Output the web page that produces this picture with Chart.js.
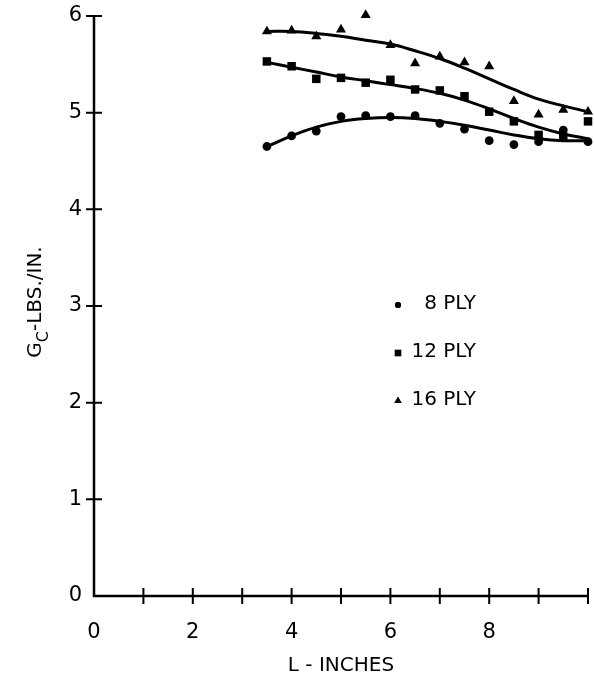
<!DOCTYPE html>
<html><head><meta charset="utf-8">
<script src="https://cdn.jsdelivr.net/npm/chart.js@4/dist/chart.umd.min.js"></script>
<style>html,body{margin:0;padding:0;background:#fff}#wrap{width:594px;height:684px}</style>
</head><body><div id="wrap"><canvas id="c" width="594" height="684"></canvas></div>
<script>
const lengths = [3.5, 4, 4.5, 5, 5.5, 6, 6.5, 7, 7.5, 8, 8.5, 9, 9.5, 10];
const ply8  = [4.65, 4.76, 4.81, 4.96, 4.97, 4.96, 4.97, 4.89, 4.83, 4.71, 4.67, 4.70, 4.82, 4.70];
const ply12 = [5.53, 5.48, 5.35, 5.36, 5.31, 5.34, 5.24, 5.23, 5.17, 5.01, 4.91, 4.77, 4.75, 4.91];
const ply16 = [5.84, 5.85, 5.79, 5.86, 6.01, 5.70, 5.51, 5.58, 5.52, 5.48, 5.12, 4.98, 5.03, 5.01];
const fit8  = [4.65, 4.76, 4.85, 4.91, 4.94, 4.95, 4.94, 4.91, 4.87, 4.82, 4.77, 4.73, 4.71, 4.71];
const fit12 = [5.52, 5.47, 5.42, 5.37, 5.33, 5.29, 5.25, 5.20, 5.13, 5.04, 4.94, 4.85, 4.78, 4.73];
const fit16 = [5.84, 5.84, 5.82, 5.79, 5.75, 5.71, 5.64, 5.56, 5.46, 5.35, 5.24, 5.14, 5.07, 5.01];
const seriesNames = ['8 PLY', '12 PLY', '16 PLY'];
const seriesMarkers = ['circle', 'rect', 'triangle'];
const xTicks = [0, 1, 2, 3, 4, 5, 6, 7, 8, 9, 10];
const xLabelled = [0, 2, 4, 6, 8];
const yTicks = [0, 1, 2, 3, 4, 5, 6];

const FONT = '"DejaVu Sans", sans-serif';
const pts = (ys) => lengths.map((x, i) => ({x, y: ys[i]}));
const markerRadius = {circle: 4.4, rect: 6, triangle: 5.8};

const scatter = (name, ys, marker) => ({
  type: 'scatter', label: name, data: pts(ys), showLine: false, clip: false,
  pointStyle: marker, pointRadius: markerRadius[marker],
  backgroundColor: '#000', borderColor: '#000', borderWidth: 0
});
const curve = (ys) => ({
  type: 'line', data: pts(ys), pointRadius: 0, borderColor: '#000', clip: false,
  borderWidth: 3, tension: 0.4, fill: false
});

const decor = {
  id: 'decor',
  afterDraw(chart) {
    const ctx = chart.ctx, xs = chart.scales.x, ys = chart.scales.y;
    const x0 = xs.getPixelForValue(0), y0 = ys.getPixelForValue(0);
    ctx.save();
    ctx.strokeStyle = '#000'; ctx.lineWidth = 2.5; ctx.lineCap = 'butt';
    ctx.beginPath();
    ctx.moveTo(x0, ys.getPixelForValue(6)); ctx.lineTo(x0, y0);
    ctx.lineTo(xs.getPixelForValue(10), y0);
    ctx.stroke();
    ctx.lineWidth = 2;
    ctx.beginPath();
    xTicks.forEach(v => { if (v === 0) return; const p = xs.getPixelForValue(v); ctx.moveTo(p, y0 - 8); ctx.lineTo(p, y0 + 8); });
    yTicks.forEach(v => { if (v === 0) return; const p = ys.getPixelForValue(v); ctx.moveTo(x0 - 8, p); ctx.lineTo(x0 + 8, p); });
    ctx.stroke();
    ctx.fillStyle = '#000';
    ctx.translate(36, 302);
    ctx.rotate(-Math.PI / 2);
    const big = '20px ' + FONT, small = '16px ' + FONT;
    ctx.font = big; const wG = ctx.measureText('G').width;
    ctx.font = small; const wC = ctx.measureText('C').width;
    ctx.font = big; const rest = '-LBS./IN.'; const wR = ctx.measureText(rest).width;
    let sx = -(wG + wC + wR) / 2;
    ctx.textBaseline = 'middle'; ctx.textAlign = 'left';
    ctx.font = big; ctx.fillText('G', sx, 0); sx += wG;
    ctx.font = small; ctx.fillText('C', sx, 8); sx += wC;
    ctx.font = big; ctx.fillText(rest, sx, 0);
    ctx.restore();
    ctx.save();
    ctx.fillStyle = '#000';
    ctx.font = '20px ' + FONT; ctx.textAlign = 'right'; ctx.textBaseline = 'middle';
    const legY = [304, 352, 400];
    seriesNames.forEach((n, i) => {
      ctx.fillText(n, 476, legY[i]);
      const m = seriesMarkers[i];
      Chart.helpers.drawPoint(ctx, {pointStyle: m, radius: m === 'circle' ? 3 : (m === 'rect' ? 4.5 : 4.2), rotation: 0, borderWidth: 0}, 398, legY[i] + 1);
      ctx.fill();
    });
    ctx.restore();
  }
};

new Chart(document.getElementById('c'), {
  data: {
    datasets: [
      curve(fit8), curve(fit12), curve(fit16),
      scatter(seriesNames[0], ply8, 'circle'),
      scatter(seriesNames[1], ply12, 'rect'),
      scatter(seriesNames[2], ply16, 'triangle')
    ]
  },
  options: {
    responsive: false, animation: false, devicePixelRatio: 1,
    layout: {padding: {left: 0, right: 4, top: 16, bottom: 0}},
    plugins: {legend: {display: false}, tooltip: {enabled: false}},
    scales: {
      x: {
        type: 'linear', min: 0, max: 10,
        afterFit: s => { s.height = 88; s.paddingLeft = 0; s.paddingRight = 0; },
        afterBuildTicks: s => { s.ticks = xTicks.map(v => ({value: v})); },
        border: {display: false},
        grid: {display: false, drawTicks: false},
        ticks: {
          color: '#000', font: {family: FONT, size: 21}, padding: 24, maxRotation: 0, autoSkip: false,
          callback: v => xLabelled.includes(v) ? String(v) : ''
        },
        title: {display: true, text: 'L - INCHES', color: '#000', font: {family: FONT, size: 20}, padding: {top: 4, bottom: 6}}
      },
      y: {
        type: 'linear', min: 0, max: 6,
        afterFit: s => { s.width = 94; s.paddingTop = 0; s.paddingBottom = 0; },
        afterBuildTicks: s => { s.ticks = yTicks.map(v => ({value: v})); },
        border: {display: false},
        grid: {display: false, drawTicks: false},
        ticks: {color: '#000', font: {family: FONT, size: 21}, padding: 12, callback: v => String(v)}
      }
    }
  },
  plugins: [decor]
});
</script></body></html>
